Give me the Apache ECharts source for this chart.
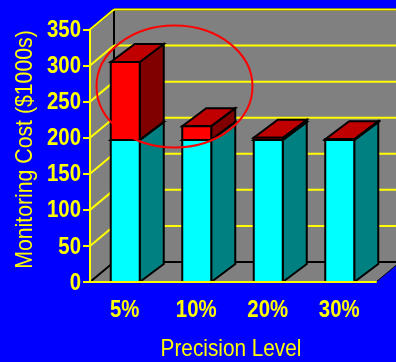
<!DOCTYPE html>
<html>
<head>
<meta charset="utf-8">
<title>Monitoring Cost</title>
<script src="https://cdn.jsdelivr.net/npm/echarts@6/dist/echarts.min.js"></script>
<style>
html, body { margin: 0; padding: 0; background: #0000ff; }
#chart { width: 396px; height: 362px; }
</style>
</head>
<body>
<div id="chart"></div>
<script>
// values
const categories = ['5%', '10%', '20%', '30%'];
const cyanValues = [197, 197, 197, 197];
const redValues = [108, 19, 3, 1];
const gridValues = [50, 100, 150, 200, 250, 300, 350];
const tickValues = [0, 50, 100, 150, 200, 250, 300, 350];
const xTitle = 'Precision Level';
const yTitle = 'Monitoring Cost ($1000s)';

const FONT = '"Liberation Sans", Arial, sans-serif';
const YELLOW = '#ffff00';
const DX = 24;
const DY = -20;
const BAR_DY = -18;
const BAR_WIDTH = 29;

const chart = echarts.init(document.getElementById('chart'));

const edge = { stroke: '#000', lineWidth: 2 };

function poly(points, fill, style) {
    return {
        type: 'polygon',
        shape: { points: points },
        style: Object.assign({ fill: fill }, style || {})
    };
}

function line(x1, y1, x2, y2, stroke, width) {
    return {
        type: 'line',
        shape: { x1: x1, y1: y1, x2: x2, y2: y2 },
        style: { stroke: stroke, lineWidth: width }
    };
}

// the reference uses a narrow face that is not installed, so squeeze the text
function narrowText(text, x, y, size, weight, scaleX, align) {
    return {
        type: 'text',
        x: x,
        y: y,
        scaleX: scaleX,
        style: {
            text: text,
            fill: YELLOW,
            font: weight + ' ' + size + 'px ' + FONT,
            align: align,
            verticalAlign: 'middle'
        }
    };
}

// grey side wall, back wall and floor behind the bars
function renderWalls(params) {
    const r = params.coordSys;
    const l = r.x, t = r.y, b = r.y + r.height, e = r.x + r.width;
    return {
        type: 'group',
        children: [
            poly([[l, t], [l + DX, t + DY], [e + DX, t + DY], [e + DX, b + DY], [e, b], [l, b]], '#808080'),
            line(l, t, l + DX, t + DY, '#000', 2),
            line(l + DX, t + DY, e + DX, t + DY, '#000', 2),
            line(l + DX, t + DY, l + DX, b + DY, '#000', 2),
            line(l + DX, b + DY, e + DX, b + DY, '#000', 2),
            line(l, b, l + DX, b + DY, '#000', 2),
            line(e, b, e + DX, b + DY, '#000', 1)
        ]
    };
}

function renderGridLine(params, api) {
    const r = params.coordSys;
    const y = api.coord([0, api.value(0)])[1];
    return {
        type: 'group',
        children: [
            line(r.x, y, r.x + DX, y + DY, YELLOW, 2),
            line(r.x + DX, y + DY, r.x + r.width + DX, y + DY, YELLOW, 2)
        ]
    };
}

function renderYLabel(params, api) {
    const y = api.coord([0, api.value(0)])[1];
    return narrowText(String(api.value(0)), 81, y + 1, 24, 'bold', 0.85, 'right');
}

function renderXLabel(params, api) {
    const p = api.coord([api.value(0), 0]);
    return narrowText(categories[api.value(0)], p[0] - 1, 310, 24, 'bold', 0.85, 'center');
}

function renderTitles(params) {
    const r = params.coordSys;
    const yName = narrowText(yTitle, 25, 149.5, 24, 'normal', 0.885, 'center');
    yName.rotation = Math.PI / 2;
    return {
        type: 'group',
        children: [
            narrowText(xTitle, r.x + 141, 349, 24, 'normal', 0.865, 'center'),
            yName
        ]
    };
}

function barRenderer(front, side, top) {
    return function (params, api) {
        const low = api.coord([api.value(0), api.value(1)]);
        const high = api.coord([api.value(0), api.value(2)]);
        const x0 = low[0] - BAR_WIDTH / 2 - 0.5;
        const x1 = x0 + BAR_WIDTH;
        return {
            type: 'group',
            children: [
                poly([[x1, low[1]], [x1 + DX, low[1] + BAR_DY], [x1 + DX, high[1] + BAR_DY], [x1, high[1]]], side, edge),
                poly([[x0, high[1]], [x1, high[1]], [x1 + DX, high[1] + BAR_DY], [x0 + DX, high[1] + BAR_DY]], top, edge),
                poly([[x0, low[1]], [x1, low[1]], [x1, high[1]], [x0, high[1]]], front, edge)
            ]
        };
    };
}

chart.setOption({
    animation: false,
    backgroundColor: '#0000ff',
    grid: { left: 90, top: 29.5, width: 286, height: 252.5, outerBoundsMode: 'none' },
    xAxis: {
        type: 'category',
        data: categories,
        z: 5,
        axisLine: { lineStyle: { color: YELLOW, width: 2 } },
        axisTick: { alignWithLabel: false, length: 5, lineStyle: { color: YELLOW, width: 2 } },
        axisLabel: { show: false }
    },
    yAxis: {
        type: 'value',
        min: 0,
        max: 350,
        interval: 50,
        z: 5,
        splitLine: { show: false },
        axisLine: { show: true, lineStyle: { color: YELLOW, width: 2 } },
        axisTick: { show: true, length: 7, lineStyle: { color: YELLOW, width: 2 } },
        axisLabel: { show: false }
    },
    series: [
        {
            type: 'custom',
            z: 1,
            silent: true,
            renderItem: renderWalls,
            data: [[0]]
        },
        {
            type: 'custom',
            z: 2,
            silent: true,
            renderItem: renderGridLine,
            encode: { y: 0 },
            data: gridValues.map(v => [v])
        },
        {
            type: 'custom',
            z: 3,
            silent: true,
            renderItem: barRenderer('#00ffff', '#008080', '#008080'),
            encode: { x: 0, y: [1, 2] },
            data: categories.map((c, i) => [i, 0, cyanValues[i]])
        },
        {
            type: 'custom',
            z: 4,
            silent: true,
            renderItem: barRenderer('#ff0000', '#800000', '#c00000'),
            encode: { x: 0, y: [1, 2] },
            data: categories.map((c, i) => [i, cyanValues[i], cyanValues[i] + redValues[i]])
        },
        {
            type: 'custom',
            z: 6,
            silent: true,
            renderItem: renderYLabel,
            encode: { y: 0 },
            data: tickValues.map(v => [v])
        },
        {
            type: 'custom',
            z: 6,
            silent: true,
            renderItem: renderXLabel,
            encode: { x: 0 },
            data: categories.map((c, i) => [i])
        },
        {
            type: 'custom',
            z: 6,
            silent: true,
            renderItem: renderTitles,
            data: [[0]]
        }
    ],
    graphic: [
        {
            type: 'ellipse',
            z: 10,
            shape: { cx: 174.5, cy: 86.5, rx: 78, ry: 61 },
            style: { fill: 'none', stroke: '#ff0000', lineWidth: 2 }
        }
    ]
});
</script>
</body>
</html>
